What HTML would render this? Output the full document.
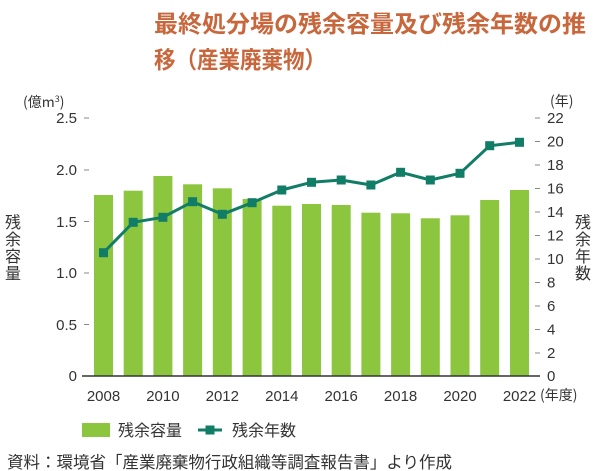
<!DOCTYPE html>
<html><head><meta charset="utf-8"><style>
html,body{margin:0;padding:0;background:#fff;}
svg{display:block;}
text{font-family:"Liberation Sans","Noto Sans CJK JP",sans-serif;fill:#333;}
.j{font-family:"Noto Sans CJK JP","Liberation Sans",sans-serif;}
</style></head><body>
<svg width="600" height="471" viewBox="0 0 600 471" xmlns="http://www.w3.org/2000/svg">
<text class="j" x="154" y="32" font-size="23.5" font-weight="bold" style="fill:#c8663c" textLength="432" lengthAdjust="spacingAndGlyphs">最終処分場の残余容量及び残余年数の推</text>
<text class="j" x="154" y="68" font-size="23.5" font-weight="bold" style="fill:#c8663c" textLength="172" lengthAdjust="spacingAndGlyphs">移（産業廃棄物）</text>

<text class="j" x="23" y="107" font-size="14">(億m<tspan font-size="9" dy="-5">3</tspan><tspan dy="5">)</tspan></text>
<text class="j" x="550" y="106" font-size="14">(年)</text>

<g font-size="15" text-anchor="end">
<text x="77" y="123">2.5</text>
<text x="77" y="175">2.0</text>
<text x="77" y="227">1.5</text>
<text x="77" y="278">1.0</text>
<text x="77" y="330">0.5</text>
<text x="77" y="381">0</text>
</g>
<g stroke="#888" stroke-width="1">
<line x1="84" y1="118" x2="89" y2="118"/>
<line x1="84" y1="170" x2="89" y2="170"/>
<line x1="84" y1="221.5" x2="89" y2="221.5"/>
<line x1="84" y1="273" x2="89" y2="273"/>
<line x1="84" y1="324.5" x2="89" y2="324.5"/>
</g>

<g font-size="15">
<text x="547" y="123">22</text>
<text x="547" y="146.5">20</text>
<text x="547" y="170">18</text>
<text x="547" y="193.5">16</text>
<text x="547" y="217">14</text>
<text x="547" y="240.5">12</text>
<text x="547" y="264">10</text>
<text x="547" y="287.5">8</text>
<text x="547" y="311">6</text>
<text x="547" y="334.5">4</text>
<text x="547" y="358">2</text>
<text x="547" y="381">0</text>
</g>
<g stroke="#888" stroke-width="1">
<line x1="535" y1="118" x2="540" y2="118"/>
<line x1="535" y1="141.5" x2="540" y2="141.5"/>
<line x1="535" y1="165" x2="540" y2="165"/>
<line x1="535" y1="188.5" x2="540" y2="188.5"/>
<line x1="535" y1="212" x2="540" y2="212"/>
<line x1="535" y1="235.5" x2="540" y2="235.5"/>
<line x1="535" y1="259" x2="540" y2="259"/>
<line x1="535" y1="282.5" x2="540" y2="282.5"/>
<line x1="535" y1="306" x2="540" y2="306"/>
<line x1="535" y1="329.5" x2="540" y2="329.5"/>
<line x1="535" y1="353" x2="540" y2="353"/>
</g>

<g class="j" font-size="16" text-anchor="middle">
<text class="j" x="13" y="228">残</text>
<text class="j" x="13" y="245">余</text>
<text class="j" x="13" y="262">容</text>
<text class="j" x="13" y="279">量</text>
<text class="j" x="583" y="228">残</text>
<text class="j" x="583" y="245">余</text>
<text class="j" x="583" y="262">年</text>
<text class="j" x="583" y="279">数</text>
</g>

<g fill="#8cc63f">
<rect x="94" y="195" width="19" height="181"/>
<rect x="123.7" y="190.7" width="19" height="185.3"/>
<rect x="153.4" y="176" width="19" height="200"/>
<rect x="183.1" y="184.3" width="19" height="191.7"/>
<rect x="212.8" y="188.3" width="19" height="187.7"/>
<rect x="242.6" y="199" width="19" height="177"/>
<rect x="272.3" y="205.7" width="19" height="170.3"/>
<rect x="302" y="204" width="19" height="172"/>
<rect x="331.7" y="205" width="19" height="171"/>
<rect x="361.4" y="212.7" width="19" height="163.3"/>
<rect x="391.1" y="213.3" width="19" height="162.7"/>
<rect x="420.8" y="218.3" width="19" height="157.7"/>
<rect x="450.5" y="215.3" width="19" height="160.7"/>
<rect x="480.2" y="200" width="19" height="176"/>
<rect x="510" y="190" width="19" height="186"/>
</g>

<line x1="82" y1="376" x2="540" y2="376" stroke="#333" stroke-width="1.6"/>

<polyline fill="none" stroke="#117d66" stroke-width="3" stroke-linejoin="round" points="103.5,252.7 133.2,222.3 162.9,217.3 192.6,201.7 222.3,214.3 252.1,202.7 281.8,190 311.5,182.3 341.2,180 370.9,185 400.6,172.3 430.3,180 460,173.3 489.7,145.7 519.5,142.3"/>
<g fill="#117d66">
<rect x="99" y="248.2" width="9" height="9"/>
<rect x="128.7" y="217.8" width="9" height="9"/>
<rect x="158.4" y="212.8" width="9" height="9"/>
<rect x="188.1" y="197.2" width="9" height="9"/>
<rect x="217.8" y="209.8" width="9" height="9"/>
<rect x="247.6" y="198.2" width="9" height="9"/>
<rect x="277.3" y="185.5" width="9" height="9"/>
<rect x="307" y="177.8" width="9" height="9"/>
<rect x="336.7" y="175.5" width="9" height="9"/>
<rect x="366.4" y="180.5" width="9" height="9"/>
<rect x="396.1" y="167.8" width="9" height="9"/>
<rect x="425.8" y="175.5" width="9" height="9"/>
<rect x="455.5" y="168.8" width="9" height="9"/>
<rect x="485.2" y="141.2" width="9" height="9"/>
<rect x="515" y="137.8" width="9" height="9"/>
</g>

<g font-size="15" text-anchor="middle">
<text x="103.5" y="401">2008</text>
<text x="162.9" y="401">2010</text>
<text x="222.3" y="401">2012</text>
<text x="281.8" y="401">2014</text>
<text x="341.2" y="401">2016</text>
<text x="400.6" y="401">2018</text>
<text x="460" y="401">2020</text>
<text x="519.5" y="401">2022</text>
</g>
<text class="j" x="540" y="400" font-size="14">(年度)</text>

<rect x="82" y="423" width="28" height="14" fill="#8cc63f"/>
<text class="j" x="118" y="436" font-size="16">残余容量</text>
<line x1="198" y1="430" x2="222" y2="430" stroke="#117d66" stroke-width="3"/>
<rect x="205.5" y="425.5" width="9" height="9" fill="#117d66"/>
<text class="j" x="232" y="436" font-size="16">残余年数</text>

<text class="j" x="7" y="468" font-size="16.5" textLength="445" lengthAdjust="spacingAndGlyphs">資料：環境省「産業廃棄物行政組織等調査報告書」より作成</text>
</svg>
</body></html>
